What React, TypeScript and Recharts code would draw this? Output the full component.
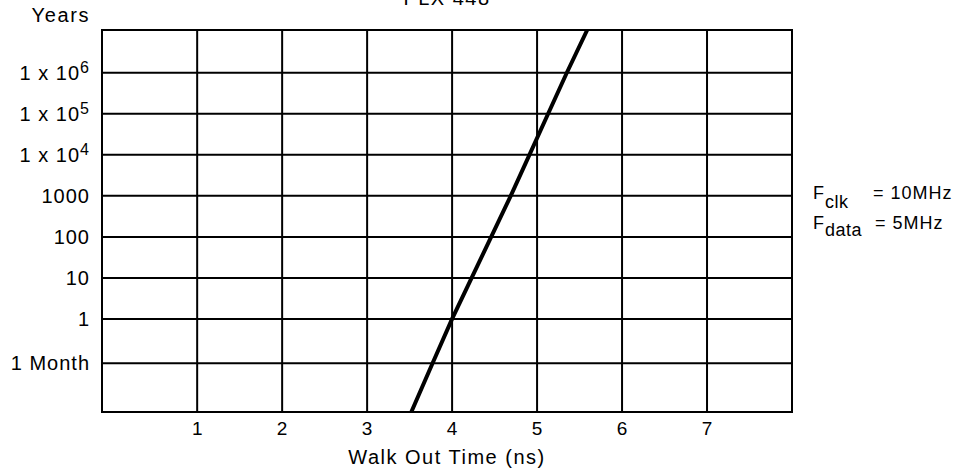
import * as React from 'react';
import {
  LineChart,
  Line,
  XAxis,
  YAxis,
  CartesianGrid,
  ReferenceArea,
} from 'recharts';

// walk out time (ns) vs mean time between failures (years)
const walkOutNs = [3.52, 3.77, 4.0, 4.23, 4.46, 4.69, 4.91, 5.13, 5.35, 5.59];
const mtbfYears = [0.0054, 1 / 12, 1, 10, 100, 1000, 1e4, 1e5, 1e6, 1.1e7];

const xTicks = [1, 2, 3, 4, 5, 6, 7];
const yTicks = [1 / 12, 1, 10, 100, 1000, 1e4, 1e5, 1e6];
const yTickBase = ['1 Month', '1', '10', '100', '1000', '1 x 10', '1 x 10', '1 x 10'];
const yTickExp = ['', '', '', '', '', '4', '5', '6'];

const xDomain = [-0.12, 8];
const yDomain = [0.0054, 1.1e7];

const FONT = '"Liberation Sans", Arial, Helvetica, sans-serif';

const data = walkOutNs.map((x, i) => ({ x, y: mtbfYears[i] }));

const YTick = (props: any) => {
  const { x, y, payload } = props;
  const i = yTicks.findIndex((t) => Math.abs(t - payload.value) / t < 1e-6);
  if (i < 0) return null;
  return (
    <text
      x={x}
      y={y + 7}
      textAnchor="end"
      fontFamily={FONT}
      fontSize={20}
      letterSpacing={1}
      fill="#000"
    >
      <tspan>{yTickBase[i]}</tspan>
      {yTickExp[i] && (
        <tspan dy={-7} fontSize={16}>
          {yTickExp[i]}
        </tspan>
      )}
    </text>
  );
};

const XTick = (props: any) => {
  const { x, y, payload } = props;
  return (
    <text
      x={x}
      y={y + 15}
      textAnchor="middle"
      fontFamily={FONT}
      fontSize={19}
      fill="#000"
    >
      {payload.value}
    </text>
  );
};

export default function App() {
  return (
    <div style={{ position: 'absolute', left: 0, top: 0, width: 961, height: 473, background: '#fff' }}>
      <LineChart
        width={961}
        height={473}
        data={data}
        margin={{ top: 30, right: 169, bottom: 0, left: 0 }}
      >
        <CartesianGrid stroke="#000" strokeWidth={2} strokeOpacity={1} />
        <XAxis
          dataKey="x"
          type="number"
          domain={xDomain}
          ticks={xTicks}
          allowDataOverflow
          height={61}
          tickLine={false}
          axisLine={{ stroke: '#000', strokeWidth: 2 }}
          tick={<XTick />}
        />
        <YAxis
          dataKey="y"
          type="number"
          scale="log"
          domain={yDomain}
          ticks={yTicks}
          allowDataOverflow
          width={102}
          tickLine={false}
          tickSize={0}
          tickMargin={12}
          axisLine={{ stroke: '#000', strokeWidth: 2 }}
          tick={<YTick />}
        />
        <ReferenceArea
          x1={xDomain[0]}
          x2={xDomain[1]}
          y1={yDomain[0]}
          y2={yDomain[1]}
          fill="none"
          stroke="#000"
          strokeWidth={2}
          ifOverflow="visible"
        />
        <Line
          type="linear"
          dataKey="y"
          stroke="#000"
          strokeWidth={4}
          dot={false}
          isAnimationActive={false}
        />
      </LineChart>

      {/* titles and the frequency note */}
      <svg
        width={961}
        height={473}
        style={{ position: 'absolute', left: 0, top: 0, pointerEvents: 'none' }}
      >
        <g fontFamily={FONT} fill="#000">
          <text x={447} y={5} textAnchor="middle" fontSize={20} letterSpacing={1.5}>
            PLX 448
          </text>
          <text x={90} y={22} textAnchor="end" fontSize={20} letterSpacing={1.6}>
            Years
          </text>
          <text x={447} y={464} textAnchor="middle" fontSize={20} letterSpacing={1.5}>
            Walk Out Time (ns)
          </text>
          <text x={813} y={199} fontSize={18} letterSpacing={1}>
            F
          </text>
          <text x={825} y={208} fontSize={18} letterSpacing={0.5}>
            clk
          </text>
          <text x={873} y={199} fontSize={18} letterSpacing={1}>
            = 10MHz
          </text>
          <text x={813} y={229} fontSize={18} letterSpacing={1}>
            F
          </text>
          <text x={825} y={236} fontSize={18} letterSpacing={0.5}>
            data
          </text>
          <text x={875} y={229} fontSize={18} letterSpacing={1}>
            = 5MHz
          </text>
        </g>
      </svg>
    </div>
  );
}
